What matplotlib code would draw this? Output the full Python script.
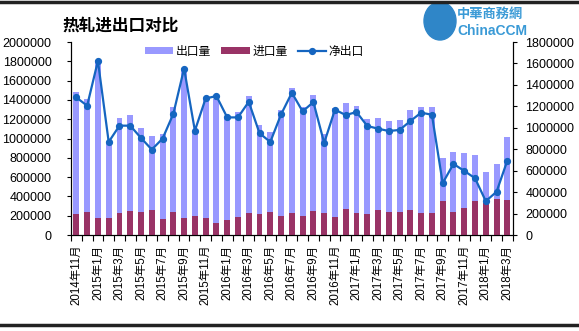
import matplotlib
matplotlib.use("Agg")
import matplotlib.pyplot as plt
from matplotlib.lines import Line2D
from matplotlib.patches import Ellipse

plt.rcParams['font.family'] = ['Liberation Sans', 'Noto Sans CJK SC', 'DejaVu Sans']

months = [
    "2014年11月", "2014年12月",
    "2015年1月", "2015年2月", "2015年3月", "2015年4月", "2015年5月", "2015年6月",
    "2015年7月", "2015年8月", "2015年9月", "2015年10月", "2015年11月", "2015年12月",
    "2016年1月", "2016年2月", "2016年3月", "2016年4月", "2016年5月", "2016年6月",
    "2016年7月", "2016年8月", "2016年9月", "2016年10月", "2016年11月", "2016年12月",
    "2017年1月", "2017年2月", "2017年3月", "2017年4月", "2017年5月", "2017年6月",
    "2017年7月", "2017年8月", "2017年9月", "2017年10月", "2017年11月", "2017年12月",
    "2018年1月", "2018年2月", "2018年3月",
]

# 出口量 (left axis)
exports = [
    1480000, 1410000, 1810000, 975000, 1215000, 1245000, 1110000, 1030000,
    1045000, 1327000, 1735000, 1075000, 1405000, 1405000, 1221000, 1277000,
    1440000, 1139000, 1069000, 1294000, 1522000, 1326000, 1452000, 1044000,
    1315000, 1370000, 1338000, 1200000, 1214000, 1183000, 1193000, 1296000,
    1327000, 1327000, 803000, 862000, 852000, 831000, 655000, 738000, 1017000,
]

# 进口量 (left axis)
imports = [
    221000, 241000, 179000, 179000, 231000, 252000, 241000, 262000,
    169000, 241000, 176000, 198000, 175000, 124000, 157000, 186000,
    229000, 219000, 239000, 198000, 229000, 198000, 250000, 229000,
    186000, 270000, 229000, 219000, 260000, 241000, 241000, 262000,
    231000, 231000, 355000, 241000, 283000, 355000, 331000, 376000, 365000,
]

# 净出口 (right axis)
net = [
    1283000, 1206000, 1624000, 868000, 1020000, 1020000, 905000, 797000,
    899000, 1130000, 1553000, 973000, 1274000, 1296000, 1097000, 1097000,
    1243000, 949000, 868000, 1125000, 1327000, 1153000, 1240000, 859000,
    1169000, 1119000, 1147000, 1017000, 992000, 970000, 980000, 1063000,
    1141000, 1122000, 484000, 663000, 598000, 530000, 316000, 403000, 694000,
]

left_ticks = list(range(0, 2000001, 200000))
right_ticks = list(range(0, 1800001, 200000))

fig = plt.figure(figsize=(5.79, 3.31), dpi=100)
ax = fig.add_axes([0.1226, 0.290, 0.7629, 0.583])
x = list(range(len(months)))

ax.bar(x, exports, width=0.55, color="#9999ff", label="出口量", zorder=2)
ax.bar(x, imports, width=0.55, color="#993366", label="进口量", zorder=3)
ax.set_xlim(-0.5, len(months) - 0.5)
ax.set_ylim(0, 2000000)
ax.set_yticks(left_ticks)
ax.set_yticklabels([str(v) for v in left_ticks], fontsize=9)
ax.tick_params(axis='y', direction='out', length=3, pad=11, width=0.8)

ax.set_xticks(x[::2])
ax.set_xticklabels(months[::2], rotation=90, fontsize=8.3)
ax.set_xticks([i - 0.5 for i in range(len(months) + 1)], minor=True)
ax.tick_params(axis='x', which='major', length=0, pad=7)
ax.tick_params(axis='x', which='minor', direction='out', length=4, width=0.8)

ax2 = ax.twinx()
ax2.plot(x, net, color="#1565c0", lw=1.6, marker='o', markersize=4.2,
         label="净出口", zorder=5)
ax2.set_ylim(0, 1800000)
ax2.set_yticks(right_ticks)
ax2.set_yticklabels([str(v) for v in right_ticks], fontsize=9)
ax2.tick_params(axis='y', direction='out', length=3, pad=6, width=0.8)

for a in (ax, ax2):
    a.spines['top'].set_visible(False)
    for s in ('left', 'right', 'bottom'):
        a.spines[s].set_linewidth(0.8)
        a.spines[s].set_color('black')

handles = ax.get_legend_handles_labels()[0] + ax2.get_legend_handles_labels()[0]
labels = ["出口量", "进口量", "净出口"]
leg = ax2.legend(handles, labels, loc='center', bbox_to_anchor=(0.415, 0.95),
                 ncol=3, frameon=False, fontsize=8.5, handlelength=2.4,
                 handleheight=0.6, columnspacing=0.9, handletextpad=0.2)

fig.text(0.107, 0.922, "热轧进出口对比", fontsize=12, fontweight='bold',
         ha='left', va='center')

# logo
fig.add_artist(Ellipse((440 / 579, 1 - 21 / 331), 32 / 579, 38 / 331,
                       transform=fig.transFigure, color="#2f86c8", zorder=0))
fig.text(457 / 579, 1 - 15 / 331, "中華商務網", fontsize=9.5, color="#3a9ad6",
         fontweight='bold', ha='left', va='center', zorder=0)
fig.text(457 / 579, 1 - 31 / 331, "ChinaCCM", fontsize=10, color="#3a9ad6",
         fontweight='bold', ha='left', va='center', zorder=0)

# table borders around the picture
fig.add_artist(Line2D([0, 1], [0.995, 0.995], transform=fig.transFigure,
                      color="#222222", lw=2.5))
fig.add_artist(Line2D([0, 1], [0.018, 0.018], transform=fig.transFigure,
                      color="#222222", lw=2.5))

fig.savefig("out.png", dpi=100)
